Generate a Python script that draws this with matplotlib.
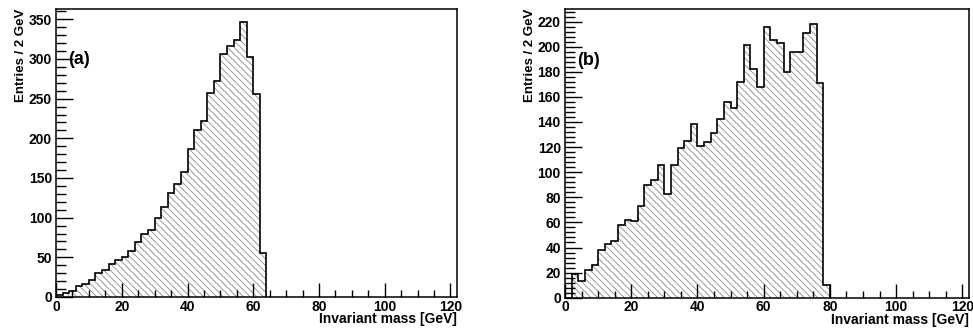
"""Two invariant-mass histograms, panels (a) and (b), drawn in a ROOT-like style."""

import matplotlib

matplotlib.use("Agg")
import matplotlib.pyplot as plt
import numpy as np
from matplotlib.ticker import MultipleLocator

plt.rcParams["font.family"] = ["Liberation Sans", "DejaVu Sans"]
plt.rcParams["font.weight"] = "bold"
plt.rcParams["hatch.linewidth"] = 0.6

BIN_WIDTH = 2.0  # GeV

# panel (a): 2 GeV bins starting at 0
counts_a = [2, 5, 7, 14, 17, 22, 30, 34, 41, 46, 51, 58, 69, 79, 84, 99,
            114, 131, 143, 157, 186, 211, 222, 257, 272, 306, 316, 324,
            346, 302, 256, 55]

# panel (b): 2 GeV bins starting at 0
counts_b = [0, 19, 13, 22, 26, 38, 43, 45, 58, 62, 61, 73, 90, 94, 106, 83,
            106, 119, 125, 138, 121, 124, 131, 142, 156, 151, 172, 201,
            182, 168, 216, 205, 203, 180, 196, 196, 211, 218, 171, 10]

panel_labels = ["(a)", "(b)"]
x_label = "Invariant mass [GeV]"
y_label = "Entries / 2 GeV"


def draw_panel(axis, counts, label, y_max, y_major, y_minor):
    edges = np.arange(len(counts) + 1) * BIN_WIDTH
    axis.stairs(counts, edges, baseline=0, fill=True, facecolor="none",
                edgecolor="#8c8c8c", linewidth=0, hatch="\\\\\\\\\\")
    axis.stairs(counts, edges, baseline=0, fill=False, color="black",
                linewidth=1.2)

    axis.set_xlim(0, 122)
    axis.set_ylim(0, y_max)
    axis.xaxis.set_major_locator(MultipleLocator(20))
    axis.xaxis.set_minor_locator(MultipleLocator(5))
    axis.yaxis.set_major_locator(MultipleLocator(y_major))
    axis.yaxis.set_minor_locator(MultipleLocator(y_minor))
    axis.tick_params(which="both", direction="in", labelsize=10, width=1.0)
    axis.tick_params(axis="y", which="major", length=12, pad=3)
    axis.tick_params(axis="y", which="minor", length=7)
    axis.tick_params(axis="x", which="major", length=10, pad=2)
    axis.tick_params(axis="x", which="minor", length=5)
    for spine in axis.spines.values():
        spine.set_linewidth(1.1)

    axis.set_xlabel(x_label, fontsize=10, fontweight="bold", loc="right",
                    labelpad=-1)
    axis.set_ylabel(y_label, fontsize=9.5, fontweight="bold", loc="top",
                    labelpad=1)
    axis.text(0.03, 0.823, label, transform=axis.transAxes, fontsize=13,
              fontweight="bold", va="center", ha="left")


figure = plt.figure(figsize=(9.73, 3.29), dpi=100)
axis_a = figure.add_axes([0.0576, 0.0973, 0.4121, 0.8754])
axis_b = figure.add_axes([0.5807, 0.0951, 0.4152, 0.8775])

draw_panel(axis_a, counts_a, panel_labels[0], 363, 50, 10)
draw_panel(axis_b, counts_b, panel_labels[1], 230, 20, 4)

figure.savefig("out.png", dpi=100)
plt.close(figure)
